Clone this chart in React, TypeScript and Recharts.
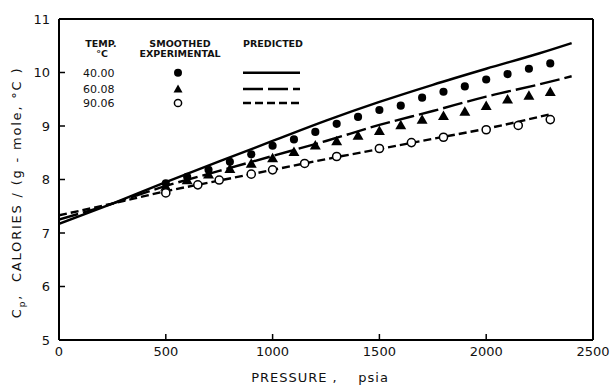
import {
  ComposedChart,
  Line,
  Scatter,
  XAxis,
  YAxis,
  ZAxis,
  Legend,
  Label,
} from 'recharts';

// predicted curves (pressure psia -> Cp)
const curvePressure = [0, 250, 500, 750, 1000, 1250, 1500, 1750, 2000, 2250, 2400];
const predicted40 = [7.17, 7.55, 7.95, 8.34, 8.72, 9.1, 9.45, 9.77, 10.07, 10.36, 10.55];
const predicted60 = [7.25, 7.55, 7.88, 8.16, 8.44, 8.72, 9.02, 9.28, 9.55, 9.78, 9.93];
const curvePressure90 = [0, 250, 500, 750, 1000, 1250, 1500, 1750, 2000, 2300];
const predicted90 = [7.33, 7.55, 7.78, 7.98, 8.18, 8.38, 8.57, 8.76, 8.95, 9.22];

// smoothed experimental points
const expPressure = [
  500, 600, 700, 800, 900, 1000, 1100, 1200, 1300, 1400, 1500, 1600, 1700, 1800, 1900, 2000,
  2100, 2200, 2300,
];
const exp40 = [
  7.93, 8.05, 8.18, 8.33, 8.47, 8.63, 8.75, 8.89, 9.04, 9.17, 9.3, 9.38, 9.53, 9.64, 9.74,
  9.87, 9.97, 10.07, 10.17,
];
const exp60 = [
  7.85, 7.97, 8.08, 8.18, 8.28, 8.38, 8.5, 8.62, 8.7, 8.8, 8.89, 9.0, 9.1, 9.17, 9.25, 9.36,
  9.48, 9.55, 9.62,
];
const exp90Pressure = [500, 650, 750, 900, 1000, 1150, 1300, 1500, 1650, 1800, 2000, 2150, 2300];
const exp90 = [7.75, 7.9, 7.99, 8.1, 8.18, 8.3, 8.43, 8.58, 8.69, 8.79, 8.93, 9.01, 9.12];

const xTicks = [0, 500, 1000, 1500, 2000, 2500];
const yTicks = [5, 6, 7, 8, 9, 10, 11];
const tempLabels = ['40.00', '60.08', '90.06'];

const toPoints = (xs: number[], ys: number[]) => xs.map((p, i) => ({ p, cp: ys[i] }));

const line40 = toPoints(curvePressure, predicted40);
const line60 = toPoints(curvePressure, predicted60);
const line90 = toPoints(curvePressure90, predicted90);
const pts40 = toPoints(expPressure, exp40);
const pts60 = toPoints(expPressure, exp60);
const pts90 = toPoints(exp90Pressure, exp90);

const FONT = '"DejaVu Sans", sans-serif';
const INK = '#111';
const DASH_LONG = '20 5';
const DASH_SHORT = '8 4';
const FRAME = { stroke: '#000', strokeWidth: 2 };
const TICK = { stroke: '#000', strokeWidth: 1.5 };

function YTitle(props: any) {
  const vb = props.viewBox || {};
  const cx = 21;
  const cy = vb.y + vb.height / 2 + 13;
  return (
    <text
      x={cx}
      y={cy}
      transform={`rotate(-90, ${cx}, ${cy})`}
      textAnchor="middle"
      fontFamily={FONT}
      fontSize={13}
      letterSpacing={1.8}
      fill={INK}
      style={{ whiteSpace: 'pre' }}
    >
      C
      <tspan dy={4} fontSize={9}>
        p
      </tspan>
      <tspan dy={-4}>{',  CALORIES / (g - mole, °C )'}</tspan>
    </text>
  );
}

function XTitle(props: any) {
  const vb = props.viewBox || {};
  return (
    <text
      x={vb.x + vb.width / 2 - 6}
      y={382}
      textAnchor="middle"
      fontFamily={FONT}
      fontSize={13}
      letterSpacing={1}
      fill={INK}
      style={{ whiteSpace: 'pre' }}
    >
      {'PRESSURE ,    psia'}
    </text>
  );
}

function LegendBox() {
  const rows = [38.7, 55, 69];
  const dashes = [undefined, DASH_LONG, DASH_SHORT];
  return (
    <svg width={240} height={80} style={{ display: 'block' }}>
      <g fontFamily={FONT} fontSize={9.5} fontWeight="bold" fill={INK} textAnchor="middle">
        <text x={23} y={13}>TEMP.</text>
        <text x={24} y={23}>°C</text>
        <text x={102} y={13}>SMOOTHED</text>
        <text x={102} y={23}>EXPERIMENTAL</text>
        <text x={195} y={13}>PREDICTED</text>
      </g>
      {tempLabels.map((t, i) => (
        <text key={t} x={5} y={rows[i] + 4} fontFamily={FONT} fontSize={11} fill={INK}>
          {t}
        </text>
      ))}
      <circle cx={100} cy={rows[0]} r={4} fill="#000" />
      <polygon
        points={`100,${rows[1] - 4.5} 104.5,${rows[1] + 3.5} 95.5,${rows[1] + 3.5}`}
        fill="#000"
      />
      <circle cx={100} cy={rows[2]} r={3.6} fill="#fff" stroke="#000" strokeWidth={1.5} />
      {rows.map((y, i) => (
        <line
          key={i}
          x1={165}
          x2={222}
          y1={y}
          y2={y}
          stroke="#000"
          strokeWidth={2.4}
          strokeDasharray={dashes[i]}
        />
      ))}
    </svg>
  );
}

export default function App() {
  return (
    <div style={{ position: 'absolute', left: 0, top: 0, width: 613, height: 389, background: '#fff' }}>
      <ComposedChart width={613} height={389} margin={{ top: 1, right: 1, bottom: 0, left: 0 }}>
        <XAxis
          xAxisId="main"
          type="number"
          dataKey="p"
          domain={[0, 2500]}
          ticks={xTicks}
          allowDataOverflow
          height={49}
          axisLine={FRAME}
          tickLine={TICK}
          tickSize={-6}
          tickMargin={13}
          tick={{ fill: INK, fontSize: 13, fontFamily: FONT }}
        >
          <Label content={<XTitle />} />
        </XAxis>
        <XAxis
          xAxisId="top"
          orientation="top"
          type="number"
          dataKey="p"
          domain={[0, 2500]}
          ticks={xTicks}
          allowDataOverflow
          height={18}
          axisLine={FRAME}
          tickLine={TICK}
          tickSize={-6}
          tick={false}
        />
        <YAxis
          yAxisId="main"
          type="number"
          dataKey="cp"
          domain={[5, 11]}
          ticks={yTicks}
          allowDataOverflow
          width={59}
          axisLine={FRAME}
          tickLine={TICK}
          tickSize={-6}
          tickMargin={15}
          tick={{ fill: INK, fontSize: 13, fontFamily: FONT }}
        >
          <Label content={<YTitle />} />
        </YAxis>
        <YAxis
          yAxisId="right"
          orientation="right"
          type="number"
          dataKey="cp"
          domain={[5, 11]}
          ticks={yTicks}
          allowDataOverflow
          width={19}
          axisLine={FRAME}
          tickLine={TICK}
          tickSize={-6}
          tick={false}
        />
        <ZAxis range={[52, 52]} />
        <Legend
          layout="horizontal"
          verticalAlign="middle"
          align="center"
          wrapperStyle={{ position: 'absolute', left: 78, top: 34, width: 240, height: 80 }}
          content={() => <LegendBox />}
        />
        <Line
          xAxisId="main"
          yAxisId="main"
          data={line40}
          dataKey="cp"
          type="monotone"
          stroke="#000"
          strokeWidth={2.4}
          dot={false}
          isAnimationActive={false}
        />
        <Line
          xAxisId="main"
          yAxisId="main"
          data={line60}
          dataKey="cp"
          type="monotone"
          stroke="#000"
          strokeWidth={2.4}
          strokeDasharray={DASH_LONG}
          dot={false}
          isAnimationActive={false}
        />
        <Line
          xAxisId="main"
          yAxisId="main"
          data={line90}
          dataKey="cp"
          type="monotone"
          stroke="#000"
          strokeWidth={2.4}
          strokeDasharray={DASH_SHORT}
          dot={false}
          isAnimationActive={false}
        />
        <Scatter
          xAxisId="main"
          yAxisId="main"
          data={pts40}
          dataKey="cp"
          shape="circle"
          fill="#000"
          isAnimationActive={false}
        />
        <Scatter
          xAxisId="main"
          yAxisId="main"
          data={pts60}
          dataKey="cp"
          shape="triangle"
          fill="#000"
          isAnimationActive={false}
        />
        <Scatter
          xAxisId="main"
          yAxisId="main"
          data={pts90}
          dataKey="cp"
          shape="circle"
          fill="#fff"
          stroke="#000"
          strokeWidth={1.5}
          isAnimationActive={false}
        />
      </ComposedChart>
    </div>
  );
}
